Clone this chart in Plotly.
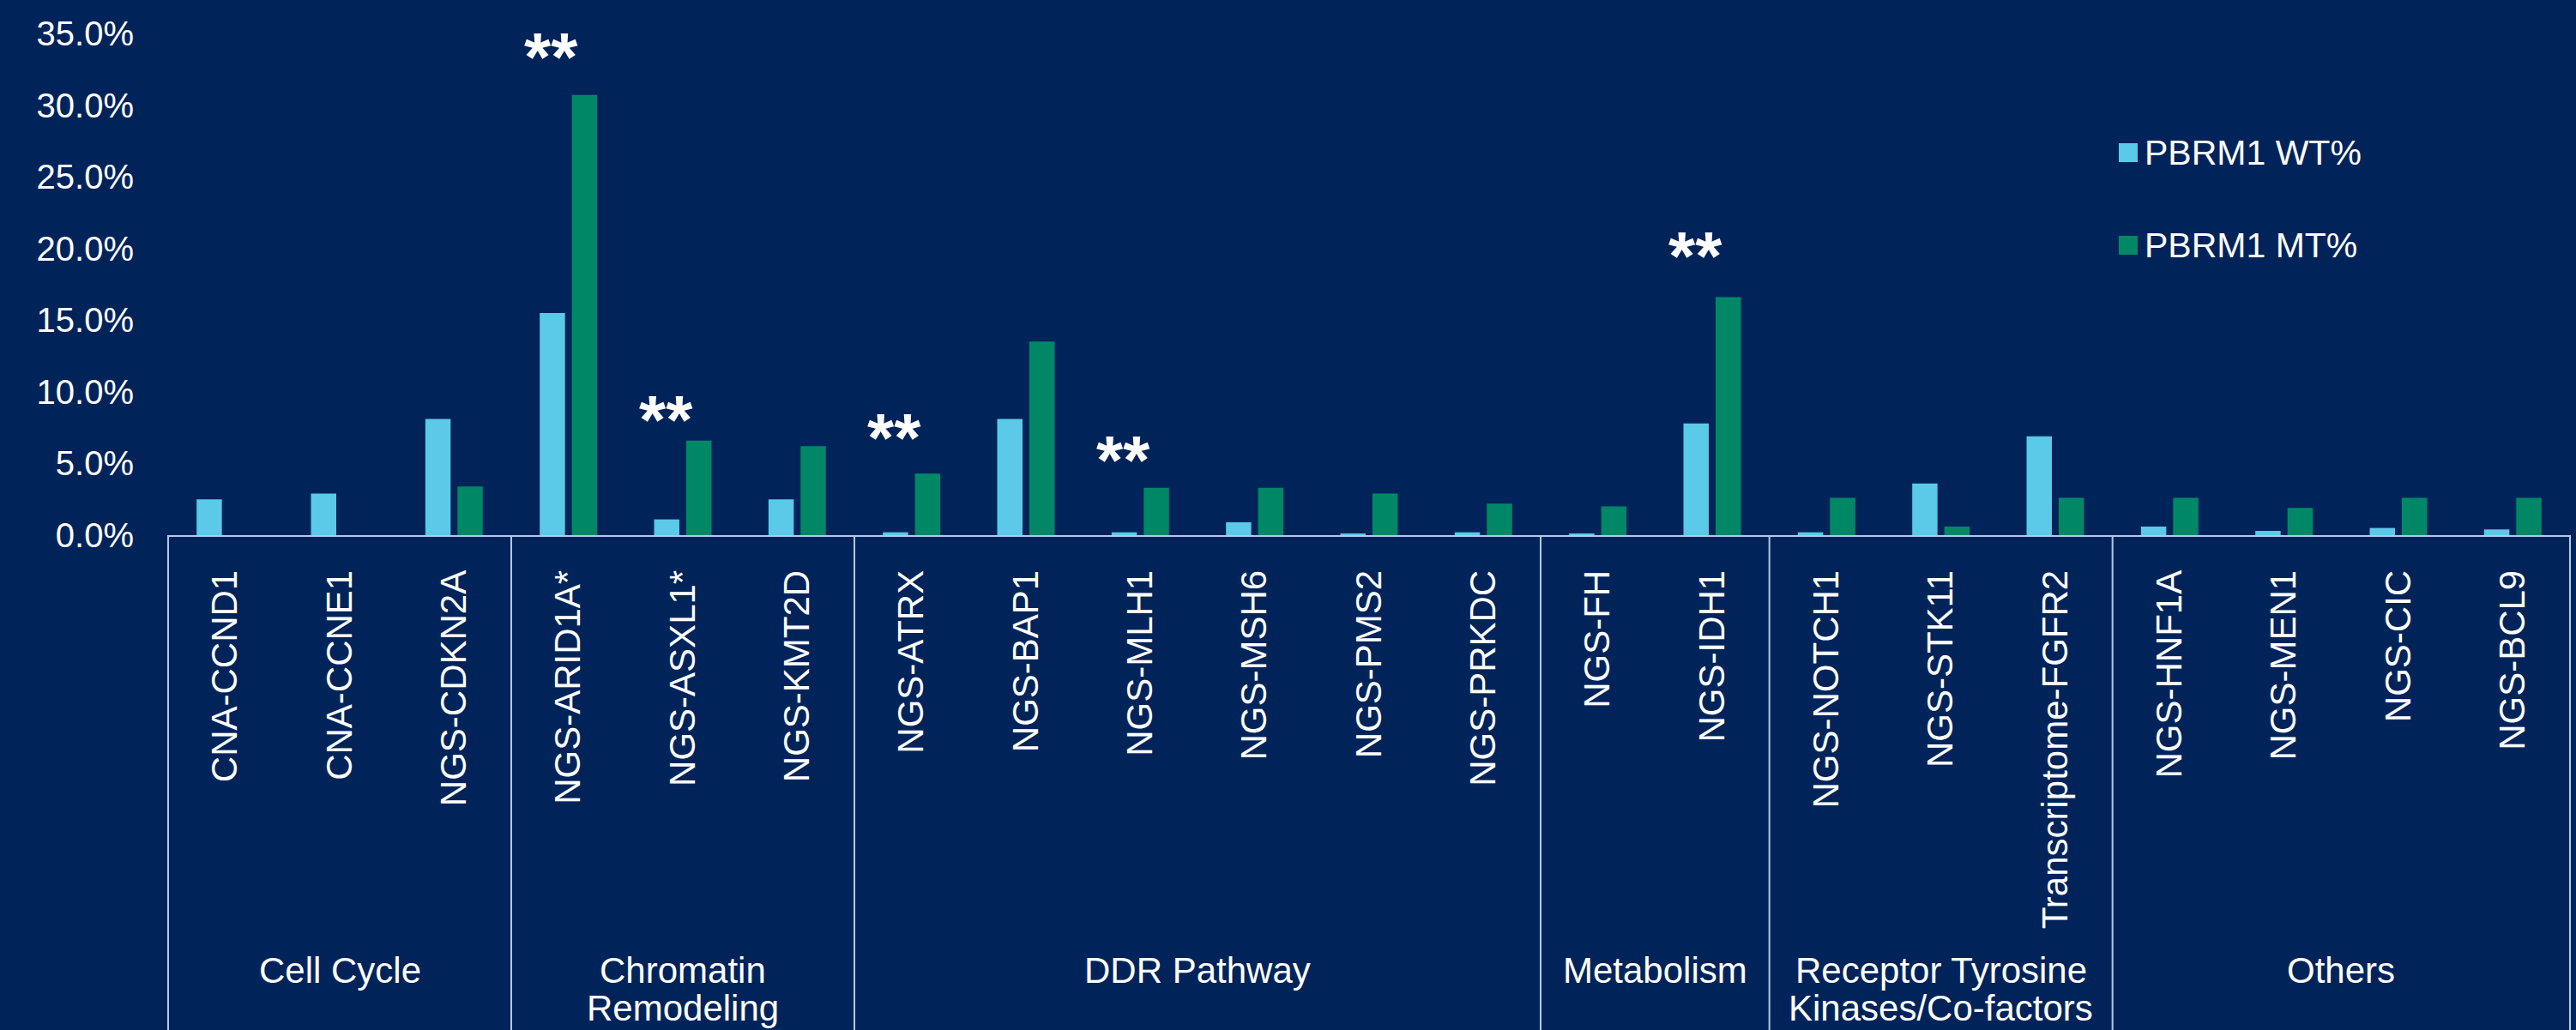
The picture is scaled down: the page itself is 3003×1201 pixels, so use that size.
import plotly.graph_objects as go

# ---- data -------------------------------------------------------------
genes = [
    "CNA-CCND1", "CNA-CCNE1", "NGS-CDKN2A",
    "NGS-ARID1A*", "NGS-ASXL1*", "NGS-KMT2D",
    "NGS-ATRX", "NGS-BAP1", "NGS-MLH1", "NGS-MSH6", "NGS-PMS2", "NGS-PRKDC",
    "NGS-FH", "NGS-IDH1",
    "NGS-NOTCH1", "NGS-STK11", "Transcriptome-FGFR2",
    "NGS-HNF1A", "NGS-MEN1", "NGS-CIC", "NGS-BCL9",
]
wt_pct = [2.5, 2.9, 8.1, 15.5, 1.1, 2.5, 0.2, 8.1, 0.2, 0.9, 0.1, 0.2,
          0.1, 7.8, 0.2, 3.6, 6.9, 0.6, 0.3, 0.5, 0.4]
mt_pct = [0.0, 0.0, 3.4, 30.7, 6.6, 6.2, 4.3, 13.5, 3.3, 3.3, 2.9, 2.2,
          2.0, 16.6, 2.6, 0.6, 2.6, 2.6, 1.9, 2.6, 2.6]

group_names = ["Cell Cycle", "Chromatin\nRemodeling", "DDR Pathway",
               "Metabolism", "Receptor Tyrosine\nKinases/Co-factors", "Others"]
group_sizes = [3, 3, 6, 2, 3, 4]

significant = ["NGS-ARID1A*", "NGS-ASXL1*", "NGS-ATRX", "NGS-MLH1", "NGS-IDH1"]
sig_label = "**"

series_names = ["PBRM1 WT%", "PBRM1 MT%"]

# ---- style ------------------------------------------------------------
BG = "#00245A"
WT_COLOR = "#5BC9E8"
MT_COLOR = "#008866"
LINE_COLOR = "#B4C8EC"
FONT = "Liberation Sans, Arial, sans-serif"

W, H = 3003, 1201
M_L, M_R, M_T, M_B = 195, 6, 39, 577
PLOT_W = W - M_L - M_R
PLOT_H = H - M_T - M_B


def px_x(xp):
    return (xp - M_L) / PLOT_W


def px_y(yp):
    return (H - M_B - yp) / PLOT_H


fig = go.Figure()
fig.add_trace(go.Bar(x=genes, y=wt_pct, name=series_names[0],
                     marker=dict(color=WT_COLOR, line=dict(width=0)),
                     showlegend=False))
fig.add_trace(go.Bar(x=genes, y=mt_pct, name=series_names[1],
                     marker=dict(color=MT_COLOR, line=dict(width=0)),
                     showlegend=False))

shapes = []
annotations = []

# group dividers running from the axis to the bottom edge, plus group titles
start = 0
bounds = [-0.5]
for name, size in zip(group_names, group_sizes):
    end = start + size
    bounds.append(end - 0.5)
    centre = (start + end - 1) / 2
    for i, line in enumerate(name.split("\n")):
        annotations.append(dict(
            x=centre, xref="x", y=px_y(1157 + i * 44), yref="paper",
            text=line, showarrow=False, xanchor="center", yanchor="bottom",
            font=dict(family=FONT, size=42, color="white"),
        ))
    start = end
for b in bounds:
    shapes.append(dict(type="line", xref="x", yref="paper",
                       x0=b, x1=b, y0=0, y1=px_y(H + 20),
                       line=dict(color=LINE_COLOR, width=2)))

# significance markers above the mutant bars
sig_shift = {"NGS-ARID1A*": 44, "NGS-ASXL1*": 24, "NGS-ATRX": 42,
             "NGS-MLH1": 32, "NGS-IDH1": 48}
for g in significant:
    i = genes.index(g)
    annotations.append(dict(
        x=i - 0.15, xref="x", y=mt_pct[i], yref="y",
        text=sig_label, showarrow=False, xanchor="center", yanchor="middle",
        yshift=sig_shift[g],
        font=dict(family=FONT, size=80, color="white", weight="bold"),
    ))

# legend
leg_y = [178, 286]
for name, col, yc in zip(series_names, [WT_COLOR, MT_COLOR], leg_y):
    shapes.append(dict(type="rect", xref="paper", yref="paper",
                       x0=px_x(2470), x1=px_x(2492),
                       y0=px_y(yc - 11), y1=px_y(yc + 11),
                       fillcolor=col, line=dict(width=0)))
    annotations.append(dict(
        x=px_x(2498), xref="paper", y=px_y(yc), yref="paper",
        text=name, showarrow=False, xanchor="left", yanchor="middle",
        font=dict(family=FONT, size=41, color="white"),
    ))

fig.update_layout(
    width=W, height=H,
    margin=dict(l=M_L, r=M_R, t=M_T, b=M_B, pad=0),
    paper_bgcolor=BG, plot_bgcolor=BG,
    barmode="group", bargap=0.438, bargroupgap=0.213,
    font=dict(family=FONT, color="white"),
    shapes=shapes, annotations=annotations,
    showlegend=False,
)
fig.update_xaxes(
    type="category", tickangle=-90, showgrid=False, zeroline=False,
    showline=True, linecolor=LINE_COLOR, linewidth=2,
    ticks="", ticklabelstandoff=22,
    tickfont=dict(family=FONT, size=42, color="white"),
)
fig.update_yaxes(
    range=[0, 35], dtick=5, tickformat=".1f", ticksuffix="%",
    showgrid=False, zeroline=False, showline=False, ticks="",
    ticklabelstandoff=38,
    tickfont=dict(family=FONT, size=40, color="white"),
)

fig.write_html("out.html")
